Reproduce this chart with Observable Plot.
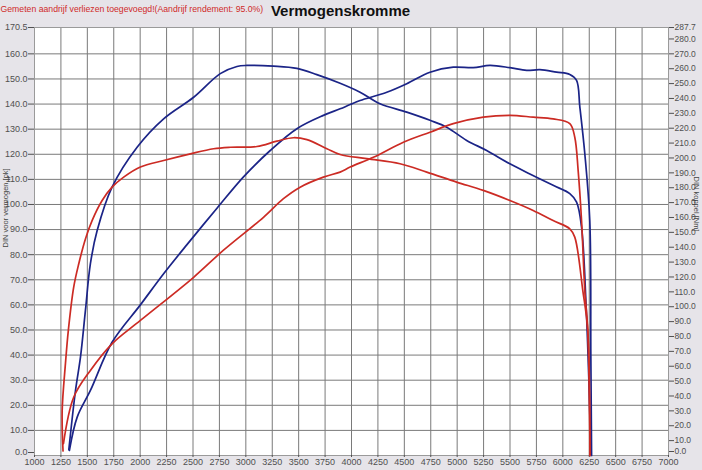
<!DOCTYPE html>
<html>
<head>
<meta charset="utf-8">
<script src="https://cdn.jsdelivr.net/npm/d3@7"></script>
<script src="https://cdn.jsdelivr.net/npm/@observablehq/plot@0.6"></script>
<style>
  html, body { margin: 0; padding: 0; background: #e6e4e9; }
  #chart { width: 702px; height: 470px; }
</style>
</head>
<body>
<div id="chart"></div>
<script>
// ---- text ----
const titleText = "Vermogenskromme";
const noteText = "Gemeten aandrijf verliezen toegevoegd!(Aandrijf rendement: 95.0%)";
const leftLabel = "DIN voor vermogen [pk]";
const rightLabel = "DIN koppel [Nm]";

// ---- tick values ----
const rpmTicks = d3.range(1000, 7001, 250);
const pkTicks = [...d3.range(10, 161, 10), 170.5];
const nmTicks = [...d3.range(10, 281, 10), 287.7];
const zeroTick = [0];
const pkMax = 170.5;
const nmMax = 287.7;

// ---- run 1 (blue) power [pk] ----
const bluePowerRpm = [1330, 1404, 1529, 1734, 2002, 2222, 2443, 2727, 2978, 3231, 3483, 3734, 3892, 3987, 4081, 4334, 4523, 4743, 4963, 5152, 5310, 5499, 5657, 5783, 5941, 6066, 6130, 6161, 6208, 6255, 6265, 6272];
const bluePowerPk  = [2, 15.3, 25.9, 45.1, 60.0, 72.4, 84.0, 98.5, 111.0, 121.5, 130.2, 135.5, 138.1, 139.8, 141.4, 144.7, 148.1, 152.7, 154.7, 154.5, 155.4, 154.5, 153.4, 153.7, 152.7, 151.8, 149.4, 138.8, 120.2, 93.6, 40, 0];

// ---- run 1 (blue) torque [Nm] ----
const blueTorqueRpm = [1325, 1388, 1435, 1482, 1529, 1593, 1734, 1971, 2222, 2506, 2758, 2916, 3010, 3262, 3483, 3672, 3892, 4081, 4270, 4523, 4743, 4901, 5090, 5279, 5499, 5688, 5908, 6066, 6130, 6177, 6220, 6250, 6265];
const blueTorqueNm  = [4, 43.7, 66.1, 97.5, 128.9, 151.2, 180.4, 207.2, 226.3, 240.8, 256.7, 261.5, 262.2, 261.7, 260.2, 256.0, 250.2, 244.2, 236.4, 230.8, 225.3, 220.7, 211.8, 205.0, 196.1, 189.3, 181.6, 176.0, 170.3, 153.6, 101, 42, 0];

// ---- run 2 (red) power [pk] ----
const redPowerRpm = [1274, 1371, 1529, 1734, 2002, 2506, 2789, 3167, 3356, 3514, 3734, 3892, 3987, 4207, 4491, 4743, 4963, 5247, 5499, 5719, 5908, 6066, 6113, 6145, 6177, 6208, 6236, 6258];
const redPowerPk  = [4.7, 23.2, 33.9, 44.5, 53.8, 71.0, 81.8, 94.9, 102.3, 106.9, 110.9, 112.9, 114.9, 118.8, 124.8, 128.8, 132.2, 134.8, 135.5, 134.8, 134.1, 132.2, 126.8, 113.5, 93.6, 65.7, 49.8, 0];

// ---- run 2 (red) torque [Nm] ----
const redTorqueRpm = [1270, 1262, 1293, 1320, 1371, 1419, 1482, 1545, 1640, 1734, 1844, 2002, 2222, 2475, 2695, 2853, 3105, 3294, 3451, 3578, 3767, 3892, 4145, 4459, 4712, 4995, 5247, 5499, 5719, 5908, 6066, 6113, 6189, 6236, 6255];
const redTorqueNm  = [3, 30.2, 61.9, 84.0, 113.2, 128.9, 145.6, 157.9, 171.4, 180.4, 187.1, 193.9, 198.3, 202.8, 206.2, 207.2, 207.7, 211.3, 213.6, 212.3, 206.2, 202.3, 199.5, 196.1, 190.5, 183.8, 178.2, 171.4, 164.7, 157.9, 152.4, 146.8, 110.9, 84.0, 0];

// ---- colours ----
const blue = "#1b2487";
const red = "#cc2b24";

const K = pkMax / nmMax; // Nm -> left-axis units

function series(xs, ys, k) {
  return xs.map((x, i) => ({rpm: x, v: ys[i] * k}));
}

const chart = Plot.plot({
  width: 702,
  height: 470,
  marginLeft: 34,
  marginRight: 34,
  marginTop: 27,
  marginBottom: 15,
  style: {background: "#e6e4e9", fontFamily: "'Liberation Sans', Arial, sans-serif", fontSize: "9px", color: "#505050", overflow: "visible"},
  x: {domain: [1000, 7000]},
  y: {domain: [0, pkMax]},
  marks: [
    Plot.frame({fill: "white"}),
    Plot.gridX({ticks: rpmTicks, stroke: "#7a7a7a", strokeOpacity: 1}),
    Plot.gridY({ticks: pkTicks, stroke: "#7a7a7a", strokeOpacity: 1}),
    Plot.frame({stroke: "#9a9a9a"}),
    Plot.axisX({ticks: rpmTicks, tickFormat: d => String(d), tickSize: 2, tickPadding: 1, label: null, fontSize: 9}),
    Plot.axisY({ticks: pkTicks, tickFormat: d => d.toFixed(1), tickSize: 6, tickPadding: 1, label: null, fontSize: 9}),
    Plot.axisY({ticks: zeroTick, tickFormat: d => d.toFixed(1), tickSize: 6, tickPadding: 1, label: null, fontSize: 9, dy: -3}),
    Plot.axisY({anchor: "right", ticks: nmTicks.map(v => v * K), tickFormat: d => (d / K).toFixed(1), tickSize: 5, tickPadding: 1, label: null, fontSize: 8.5}),
    Plot.axisY({anchor: "right", ticks: zeroTick, tickFormat: d => d.toFixed(1), tickSize: 5, tickPadding: 1, label: null, fontSize: 8.5, dy: -4}),
    Plot.line(series(blueTorqueRpm, blueTorqueNm, K), {x: "rpm", y: "v", stroke: blue, strokeWidth: 1.7, curve: "catmull-rom"}),
    Plot.line(series(bluePowerRpm, bluePowerPk, 1), {x: "rpm", y: "v", stroke: blue, strokeWidth: 1.7, curve: "catmull-rom"}),
    Plot.line(series(redTorqueRpm, redTorqueNm, K), {x: "rpm", y: "v", stroke: red, strokeWidth: 1.7, curve: "catmull-rom"}),
    Plot.line(series(redPowerRpm, redPowerPk, 1), {x: "rpm", y: "v", stroke: red, strokeWidth: 1.7, curve: "catmull-rom"}),
    Plot.text([titleText], {frameAnchor: "top", dx: -11, dy: -22, fontSize: 15, fontWeight: "bold", fill: "#111"}),
    Plot.text([noteText], {frameAnchor: "top-left", textAnchor: "start", dx: -34, dy: -22, fontSize: 8.7, fill: "#d02a2a"}),
    Plot.text([leftLabel], {frameAnchor: "left", rotate: -90, dx: -29, dy: 6, fontSize: 7.5, fill: "#444"}),
    Plot.text([rightLabel], {frameAnchor: "right", rotate: 90, dx: 28, dy: -10, fontSize: 7.5, fill: "#444"})
  ]
});

document.getElementById("chart").appendChild(chart);
</script>
</body>
</html>
